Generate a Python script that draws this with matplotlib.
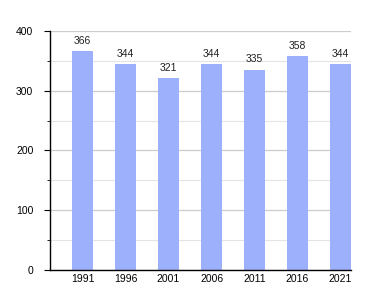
import matplotlib
matplotlib.use("Agg")
import matplotlib.pyplot as plt
from matplotlib.ticker import MultipleLocator

years = ["1991", "1996", "2001", "2006", "2011", "2016", "2021"]
values = [366, 344, 321, 344, 335, 358, 344]

plt.rcParams['font.family'] = ['Liberation Sans', 'DejaVu Sans']

fig = plt.figure(figsize=(3.8, 3.0), dpi=100)
ax = fig.add_axes([50/380, 0.1, 301/380, 0.8967 - 0.1])

x = list(range(len(years)))
ax.bar(x, values, width=0.49, color='#9db0fc', zorder=2)
for xi, v in zip(x, values):
    ax.annotate(str(v), (xi, v), xytext=(0, 4), textcoords='offset points',
                ha='center', va='bottom', fontsize=7.5, color='#222222')

ax.set_xlim(-0.756, 6.244)
ax.set_ylim(0, 400)
ax.set_xticks(x)
ax.set_xticklabels(years)
ax.yaxis.set_major_locator(MultipleLocator(100))
ax.yaxis.set_minor_locator(MultipleLocator(50))
ax.grid(axis='y', which='major', color='#cccccc', linewidth=0.9, zorder=0)
ax.grid(axis='y', which='minor', color='#e4e4e4', linewidth=0.8, zorder=0)
ax.tick_params(axis='x', length=0, labelsize=7.5, pad=3)
ax.tick_params(axis='y', which='major', length=4, labelsize=7.5, pad=8)
ax.tick_params(axis='y', which='minor', length=2)
for s in ['top', 'right']:
    ax.spines[s].set_visible(False)
ax.spines['left'].set_linewidth(1.0)
ax.spines['bottom'].set_linewidth(1.0)

fig.savefig("out.png", dpi=100)
